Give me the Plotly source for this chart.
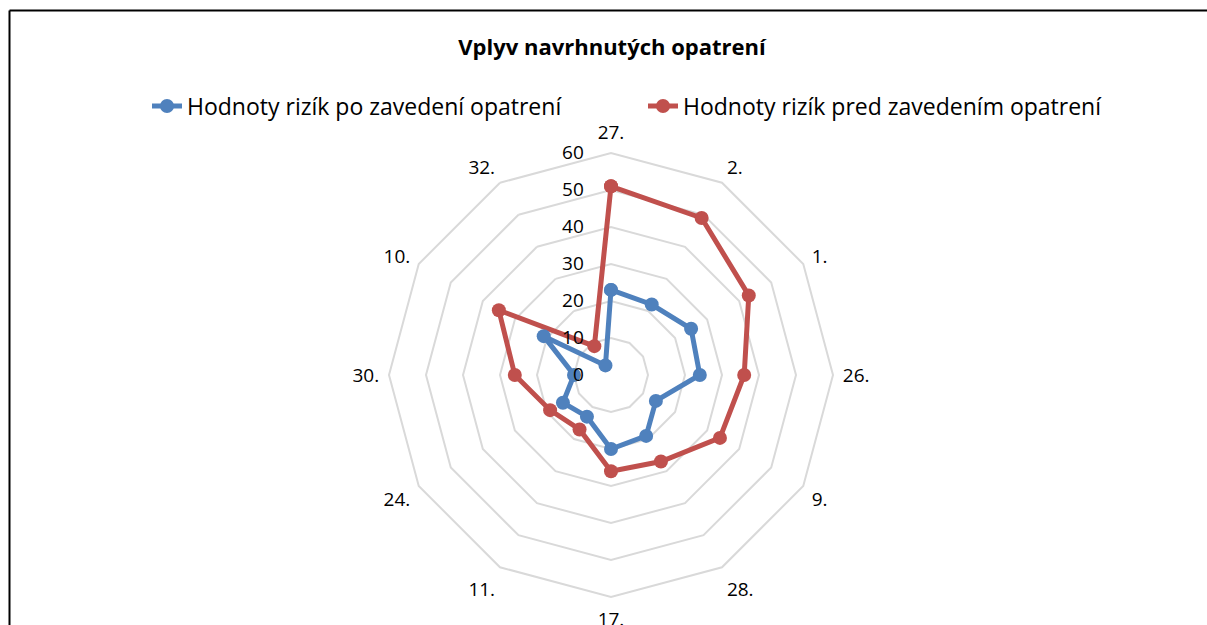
import plotly.graph_objects as go

categories = ["27.", "2.", "1.", "26.", "9.", "28.", "17.", "11.", "24.", "30.", "10.", "32."]
after_values = [23, 22, 25, 24, 14, 19, 20, 13, 15, 10, 21, 3]
before_values = [51, 49, 43, 36, 34, 27, 26, 17, 19, 26, 35, 9]
series_names = ["Hodnoty rizík po zavedení opatrení", "Hodnoty rizík pred zavedením opatrení"]
radial_ticks = [0, 10, 20, 30, 40, 50, 60]

FONT = "Open Sans, Lato, sans-serif"
BLUE = "#4f81bd"
RED = "#c0504d"
W, H = 1207, 625


def closed(seq):
    return list(seq) + [seq[0]]


fig = go.Figure()
fig.add_trace(go.Scatterpolar(
    r=closed(before_values), theta=closed(categories), name=series_names[1],
    mode="lines+markers", line=dict(color=RED, width=5),
    marker=dict(size=14, color=RED)))
fig.add_trace(go.Scatterpolar(
    r=closed(after_values), theta=closed(categories), name=series_names[0],
    mode="lines+markers", line=dict(color=BLUE, width=5),
    marker=dict(size=14, color=BLUE)))

cx, cy, R = 611, 375, 222.0
fig.update_layout(
    width=W, height=H,
    margin=dict(l=0, r=0, t=0, b=0),
    paper_bgcolor="white",
    font=dict(family=FONT, size=19, color="#000000"),
    title=dict(text="<b>Vplyv navrhnutých opatrení</b>", x=612 / W, y=1 - 47 / H,
               xanchor="center", yanchor="middle", font=dict(size=22, family=FONT)),
    legend=dict(orientation="h", x=(187 - 40) / W, y=1 - 106 / H,
                xanchor="left", yanchor="middle",
                traceorder="reversed", font=dict(size=23, family=FONT),
                entrywidth=451, entrywidthmode="pixels", bgcolor="rgba(0,0,0,0)"),
    polar=dict(
        domain=dict(x=[(cx - R) / W, (cx + R) / W], y=[(H - cy - R) / H, (H - cy + R) / H]),
        gridshape="linear",
        bgcolor="white",
        radialaxis=dict(range=[0, 60], tickvals=radial_ticks, showline=False,
                        gridcolor="#d9d9d9", gridwidth=2, angle=90, tickangle=90,
                        side="counterclockwise", ticks="outside", ticklen=20,
                        tickcolor="rgba(0,0,0,0)", tickfont=dict(size=19)),
        angularaxis=dict(rotation=90, direction="clockwise", showgrid=False,
                         showline=True, linecolor="#d9d9d9", linewidth=2,
                         ticks="outside", ticklen=5, tickcolor="rgba(0,0,0,0)",
                         tickfont=dict(size=19)),
    ),
    shapes=[
        dict(type="line", xref="paper", yref="paper",
             x0=9.5 / W, x1=9.5 / W, y0=-0.05, y1=1 - 10.5 / H,
             line=dict(color="#000000", width=2), layer="above"),
        dict(type="line", xref="paper", yref="paper",
             x0=9.5 / W, x1=1.05, y0=1 - 10.5 / H, y1=1 - 10.5 / H,
             line=dict(color="#000000", width=2), layer="above"),
    ],
)

fig.write_html("out.html", config={"displayModeBar": False},
               post_script="document.body.style.margin='0';document.body.style.overflow='hidden';")
